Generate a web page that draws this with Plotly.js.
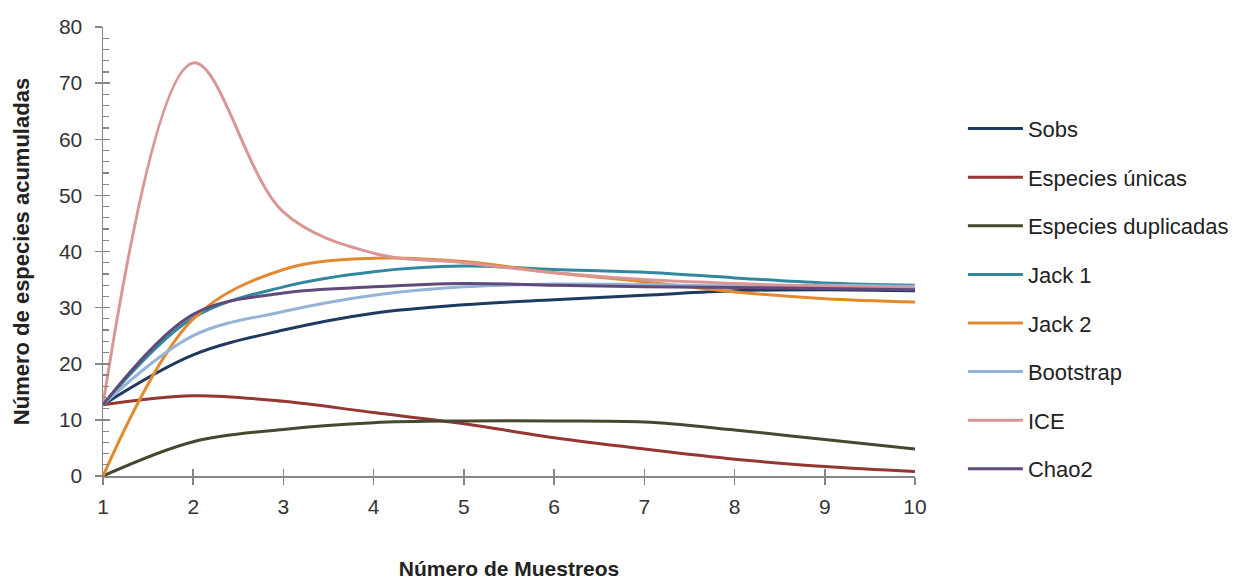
<!DOCTYPE html>
<html>
<head>
<meta charset="utf-8">
<script src="https://cdn.plot.ly/plotly-3.0.1.min.js"></script>
<style>
html, body { margin: 0; padding: 0; background: #ffffff; }
#chart { width: 1240px; height: 580px; }
</style>
</head>
<body>
<div id="chart"></div>
<script>
const muestreos = [1, 2, 3, 4, 5, 6, 7, 8, 9, 10];
const sobs       = [12.7, 21.6, 26.0, 29.0, 30.5, 31.4, 32.2, 33.0, 33.2, 33.0];
const unicas     = [12.7, 14.3, 13.3, 11.3, 9.3, 6.8, 4.8, 3.0, 1.7, 0.8];
const duplicadas = [0, 6.1, 8.3, 9.5, 9.8, 9.8, 9.6, 8.2, 6.5, 4.8];
const jack1      = [12.7, 28.2, 33.7, 36.4, 37.4, 36.8, 36.3, 35.3, 34.4, 34.0];
const jack2      = [0, 28.0, 36.8, 38.8, 38.2, 36.2, 34.6, 32.8, 31.6, 31.0];
const bootstrap  = [12.7, 25.0, 29.3, 32.2, 33.7, 34.2, 34.1, 33.9, 34.0, 33.8];
const ice        = [12.7, 73.6, 47.0, 39.7, 38.0, 36.2, 35.0, 34.3, 33.8, 33.5];
const chao2      = [12.7, 28.8, 32.6, 33.7, 34.3, 34.0, 33.7, 33.6, 33.4, 33.2];

const seriesNames = ["Sobs", "Especies únicas", "Especies duplicadas", "Jack 1", "Jack 2", "Bootstrap", "ICE", "Chao2"];
const seriesData = [sobs, unicas, duplicadas, jack1, jack2, bootstrap, ice, chao2];
const seriesColors = ["#1f3a5f", "#943634", "#46472f", "#31889e", "#e38a30", "#95b3d7", "#d99694", "#604a7b"];

const FONT = "'Liberation Sans', Arial, sans-serif";

const traces = seriesNames.map((name, i) => ({
  type: "scatter",
  mode: "lines",
  name: name,
  x: muestreos,
  y: seriesData[i],
  line: { color: seriesColors[i], width: 3, shape: "spline", smoothing: 1 },
  legendgroup: "g" + i,
  hoverinfo: "skip"
}));

// overlay axes used only for the inner half of the crossing tick marks
traces.push({
  type: "scatter", mode: "lines", x: [], y: [], xaxis: "x2", yaxis: "y2",
  showlegend: false, hoverinfo: "skip"
});

const axisGrey = "#868686";

const layout = {
  width: 1240,
  height: 580,
  paper_bgcolor: "#ffffff",
  plot_bgcolor: "#ffffff",
  margin: { l: 103, r: 325, t: 27, b: 104, autoexpand: false },
  font: { family: FONT, color: "#333333", size: 20 },
  showlegend: true,
  legend: {
    x: 1.059, xanchor: "left",
    y: 0.82, yanchor: "top",
    traceorder: "grouped",
    tracegroupgap: 17,
    itemwidth: 55,
    font: { family: FONT, size: 22, color: "#222222" },
    bgcolor: "rgba(0,0,0,0)"
  },
  xaxis: {
    range: [1, 10],
    tickvals: muestreos,
    ticks: "outside",
    ticklen: 7,
    tickwidth: 1.5,
    tickcolor: axisGrey,
    ticklabelstandoff: 4,
    showline: true,
    linecolor: axisGrey,
    linewidth: 1.5,
    showgrid: false,
    zeroline: false,
    tickfont: { family: FONT, size: 21, color: "#333333" },
    title: { text: "<b>Número de Muestreos</b>", font: { family: FONT, size: 21, color: "#222222" }, standoff: 46 }
  },
  yaxis: {
    range: [0, 80],
    dtick: 10,
    ticks: "outside",
    ticklen: 7,
    tickwidth: 1.5,
    tickcolor: axisGrey,
    ticklabelstandoff: 8,
    showline: true,
    linecolor: axisGrey,
    linewidth: 1.5,
    showgrid: false,
    zeroline: false,
    tickfont: { family: FONT, size: 21, color: "#333333" },
    title: { text: "<b>Número de especies acumuladas</b>", font: { family: FONT, size: 22, color: "#222222" }, standoff: 23 }
  },
  xaxis2: {
    overlaying: "x", anchor: "y2", range: [1, 10], tickvals: muestreos,
    ticks: "inside", ticklen: 7, tickwidth: 1.5, tickcolor: axisGrey,
    showticklabels: false, showline: false, showgrid: false, zeroline: false
  },
  yaxis2: {
    overlaying: "y", anchor: "x2", side: "left", range: [0, 80], dtick: 10,
    ticks: "inside", ticklen: 7, tickwidth: 1.5, tickcolor: axisGrey,
    minor: { dtick: 2, ticks: "inside", ticklen: 6, tickwidth: 1.2, tickcolor: axisGrey },
    showticklabels: false, showline: false, showgrid: false, zeroline: false
  }
};

Plotly.newPlot("chart", traces, layout, { displayModeBar: false, staticPlot: true });
</script>
</body>
</html>
